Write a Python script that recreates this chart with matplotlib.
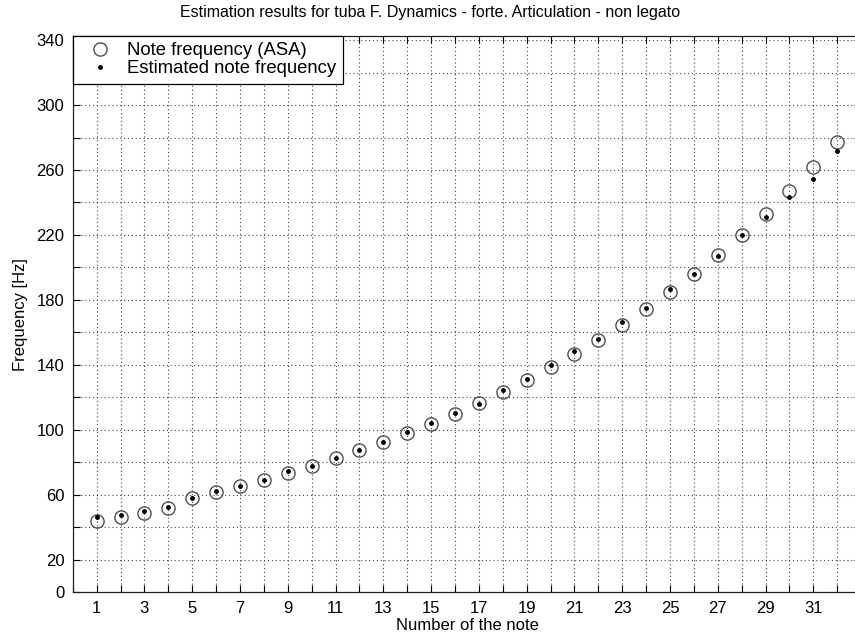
import matplotlib
matplotlib.use("Agg")
import matplotlib.pyplot as plt
import numpy as np

plt.rcParams['font.family'] = ['Liberation Sans', 'DejaVu Sans']

# note index, reference (ASA) frequency and estimated frequency in Hz
notes = list(range(1, 33))
asa_freq = [43.65, 46.25, 49.00, 51.91, 58.27, 61.74, 65.41, 69.30, 73.42, 77.78,
            82.41, 87.31, 92.50, 98.00, 103.83, 110.00, 116.54, 123.47, 130.81, 138.59,
            146.83, 155.56, 164.81, 174.61, 185.00, 196.00, 207.65, 220.00, 233.08, 246.94,
            261.63, 277.18]
est_freq = [46.2, 47.6, 50.3, 52.7, 57.8, 62.4, 65.6, 69.3, 74.7, 77.7,
            82.7, 87.8, 92.8, 98.4, 104.5, 110.1, 115.7, 124.3, 131.3, 140.0,
            148.5, 156.1, 166.3, 175.3, 186.8, 196.0, 207.2, 219.7, 231.2, 243.1,
            254.5, 271.8]

title = "Estimation results for tuba F. Dynamics - forte. Articulation - non legato"
x_ticks = list(range(0, 34))
x_labels = [str(t) if t % 2 == 1 and t <= 31 else "" for t in x_ticks]
y_ticks = list(range(0, 341, 20))
y_labels = [str(t) if (t == 0 or t == 20 or (t - 20) % 40 == 0) else "" for t in y_ticks]

fig = plt.figure(figsize=(8.55, 6.37), dpi=100)
# axes run slightly past the right border of the figure
ax = fig.add_axes([0.0851, 0.0702, 0.9221, 0.8733])

ax.plot(notes, asa_freq, linestyle='none', marker='o', markersize=9.5,
        markerfacecolor='none', markeredgecolor='#505050', markeredgewidth=1.0,
        label="Note frequency (ASA)")
ax.plot(notes, est_freq, linestyle='none', marker='.', markersize=5,
        color='black', label="Estimated note frequency")

ax.set_xlim(0, 33)
ax.set_ylim(0, 342.5)
ax.set_xticks(x_ticks)
ax.set_xticklabels(x_labels)
ax.set_yticks(y_ticks)
ax.set_yticklabels(y_labels)
ax.tick_params(direction='in', length=5, width=0.8, labelsize=12,
               top=True, right=True, pad=6)
ax.grid(True, linestyle=(0, (1, 2.5)), color='#444444', linewidth=0.8)
for sp in ax.spines.values():
    sp.set_color('#222222')
    sp.set_linewidth(0.9)

ax.set_xlabel("Number of the note", fontsize=12, labelpad=2)
ax.set_ylabel("Frequency [Hz]", fontsize=12, labelpad=6)
fig.text(430 / 855, 1 - 13 / 637, title, ha='center', va='center', fontsize=11.5)

leg = ax.legend(loc='upper left', fontsize=13.3, frameon=True, fancybox=False,
                borderaxespad=0.0, handletextpad=0.4, borderpad=0.35,
                labelspacing=0.05, handlelength=2.2)
leg.get_frame().set_edgecolor('black')
leg.get_frame().set_linewidth(0.9)
leg.get_frame().set_alpha(1.0)

fig.savefig("out.png", dpi=100)
